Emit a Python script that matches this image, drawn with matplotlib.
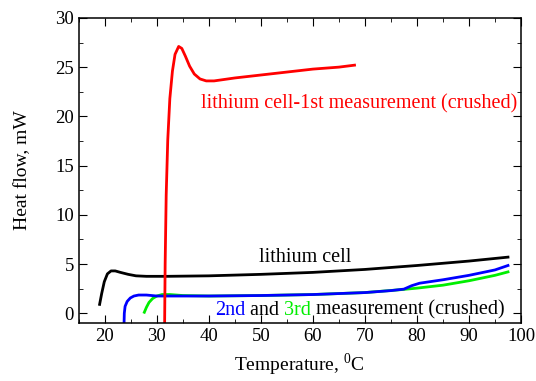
import matplotlib
matplotlib.use("Agg")
import matplotlib.pyplot as plt
from matplotlib.ticker import MultipleLocator
from matplotlib.transforms import offset_copy

plt.rcParams['font.family'] = ['Liberation Serif', 'DejaVu Serif']
plt.rcParams['mathtext.fontset'] = 'custom'
plt.rcParams['mathtext.rm'] = 'Liberation Serif'

# first measurement (crushed), red
red_x = [31.5, 31.6, 31.8, 32.1, 32.5, 33.0, 33.5, 34.2, 34.8, 35.5, 36.3, 37.2, 38.3, 39.5, 41, 45, 50, 55, 60, 65, 68]
red_y = [-1, 5, 12, 17.6, 21.8, 24.6, 26.3, 27.1, 26.9, 26.1, 25.1, 24.3, 23.8, 23.6, 23.6, 23.9, 24.2, 24.5, 24.8, 25.0, 25.2]

# lithium cell, black
blk_x = [19.0, 19.4, 19.9, 20.5, 21.2, 22.0, 23.0, 24.5, 26, 28, 32, 40, 50, 60, 70, 80, 90, 97.5]
blk_y = [0.9, 2.0, 3.2, 4.0, 4.3, 4.3, 4.15, 3.95, 3.8, 3.75, 3.75, 3.8, 3.95, 4.15, 4.45, 4.85, 5.3, 5.7]

# 2nd measurement, blue
blu_x = [23.7, 23.75, 23.9, 24.3, 24.9, 25.6, 26.5, 28, 30, 35, 40, 50, 60, 70, 75, 77.5, 79, 80.5, 85, 90, 95, 97.5]
blu_y = [-1, 0, 0.7, 1.2, 1.55, 1.75, 1.85, 1.85, 1.75, 1.75, 1.75, 1.8, 1.9, 2.1, 2.3, 2.45, 2.8, 3.05, 3.4, 3.85, 4.4, 4.85]

# 3rd measurement, green
grn_x = [27.6, 28.0, 28.5, 29.2, 30, 31, 32.5, 35, 40, 50, 60, 70, 77, 80, 85, 90, 95, 97.5]
grn_y = [0.1, 0.6, 1.1, 1.5, 1.75, 1.9, 1.9, 1.8, 1.75, 1.8, 1.9, 2.1, 2.4, 2.55, 2.85, 3.3, 3.85, 4.2]

fig = plt.figure(figsize=(5.36, 3.81), dpi=100)
ax = fig.add_axes([0.147, 0.152, 0.825, 0.801])

ax.plot(blk_x, blk_y, color='black', lw=2)
ax.plot(grn_x, grn_y, color='#00ee00', lw=2)
ax.plot(blu_x, blu_y, color='blue', lw=2)
ax.plot(red_x, red_y, color='red', lw=2)

ax.set_xlim(15, 100)
ax.set_ylim(-1, 30)
ax.xaxis.set_major_locator(MultipleLocator(10))
ax.xaxis.set_minor_locator(MultipleLocator(5))
ax.yaxis.set_major_locator(MultipleLocator(5))
ax.yaxis.set_minor_locator(MultipleLocator(2.5))
ax.tick_params(which='both', direction='in', top=True, right=True, labelsize=13.5)
ax.tick_params(which='major', length=5.5)
ax.tick_params(which='minor', length=3)
for s in ax.spines.values():
    s.set_linewidth(1.1)

ax.set_xlabel(r'Temperature, $^{0}$C', fontsize=14, labelpad=5)
ax.set_ylabel('Heat flow, mW', fontsize=14, labelpad=17)

ax.text(38.5, 21.3, 'lithium cell-1st measurement (crushed)', color='red', fontsize=14.5, va='center')
ax.text(58.5, 5.7, 'lithium cell', color='black', fontsize=14.5, ha='center', va='center')

fig.canvas.draw()
r = fig.canvas.get_renderer()
x0, y0 = 41.2, 0.3
parts = [('2nd', 'blue'), (' and ', 'black'), ('3rd', '#00ee00'), (' measurement (crushed)', 'black')]
trans = ax.transData
for s, c in parts:
    t = ax.text(x0, y0, s, color=c, fontsize=14.5, va='center', transform=trans)
    w = t.get_window_extent(r).width
    trans = offset_copy(trans, fig=fig, x=w * 72 / fig.dpi, units='points')

fig.savefig('out.png', dpi=100)
